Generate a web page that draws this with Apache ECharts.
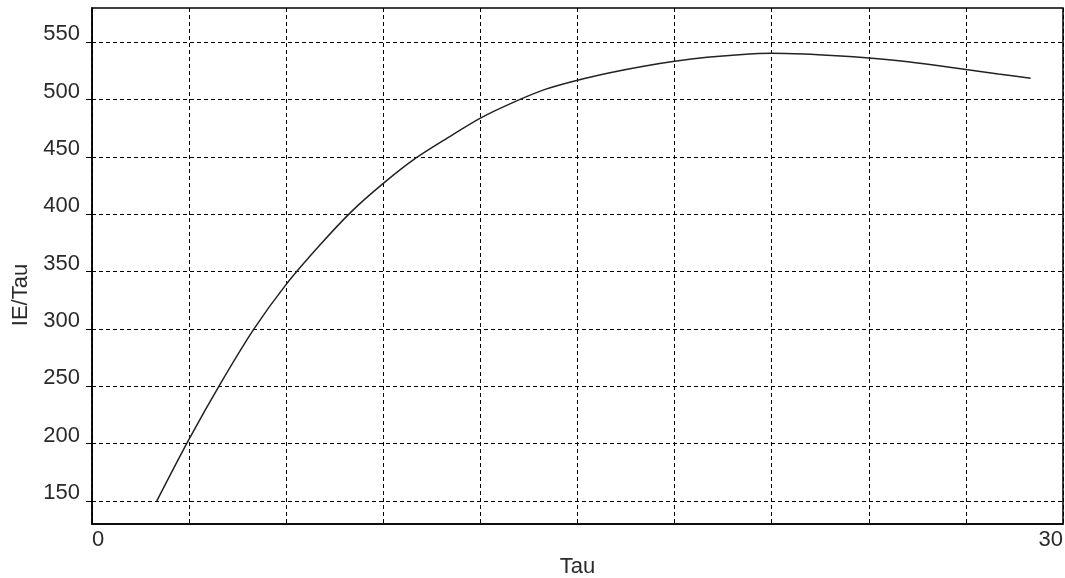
<!DOCTYPE html>
<html>
<head>
<meta charset="utf-8">
<script src="https://cdn.jsdelivr.net/npm/echarts@6/dist/echarts.min.js"></script>
<style>
html,body{margin:0;padding:0;background:#fff;}
#chart{width:1065px;height:578px;}
</style>
</head>
<body>
<div id="chart"></div>
<script>
const tau = [2,3,4,5,6,7,8,9,10,11,12,13,14,15,16,17,18,19,20,21,22,23,24,25,26,27,28,29];
const ieTau = [150,204,254,300,339,372,402,427,449,467,484,497.5,509,517,523.5,529,533.5,537,539.3,540.5,539.8,538.3,536.3,533.7,530.3,526.4,522.5,518.8];
const yTicks = [150,200,250,300,350,400,450,500,550];
const xLabelValues = [0,30];

const chart = echarts.init(document.getElementById('chart'));
const font = 'Liberation Sans, Arial, sans-serif';
chart.setOption({
  animation: false,
  backgroundColor: '#fff',
  grid: {left: 92, top: 8, right: 2, bottom: 54, show: true, borderColor: '#000', borderWidth: 1.5, backgroundColor: '#fff', outerBoundsMode: 'none', containLabel: false},
  xAxis: {
    type: 'value', min: 0, max: 30, interval: 3,
    name: 'Tau', nameLocation: 'middle', nameGap: 30,
    nameTextStyle: {fontFamily: font, fontSize: 22, color: '#2a2a2a'},
    axisLine: {show: true, lineStyle: {color: '#000', width: 1.5}},
    axisTick: {show: false},
    axisLabel: {
      fontFamily: font, fontSize: 22, color: '#2a2a2a', margin: 5,
      alignMinLabel: 'left', alignMaxLabel: 'right',
      formatter: v => xLabelValues.indexOf(v) >= 0 ? String(v) : ''
    },
    splitLine: {show: true, lineStyle: {color: '#000', type: [4,3], width: 1}}
  },
  yAxis: {
    type: 'value', min: 130, max: 580,
    name: 'IE/Tau', nameLocation: 'middle', nameGap: 60, nameRotate: 90,
    nameTextStyle: {fontFamily: font, fontSize: 22, color: '#2a2a2a', padding: [0, 58, 0, 0]},
    axisLine: {show: true, lineStyle: {color: '#000', width: 1.5}},
    axisTick: {show: true, length: 6, customValues: yTicks, lineStyle: {color: '#000', width: 1}},
    axisLabel: {
      customValues: yTicks, fontFamily: font, fontSize: 22, color: '#2a2a2a', margin: 12,
      verticalAlign: 'bottom', lineHeight: 16
    },
    splitLine: {show: true, lineStyle: {color: '#000', type: [4,3], width: 1}}
  },
  series: [{
    type: 'line',
    data: tau.map((t, i) => [t, ieTau[i]]),
    showSymbol: false,
    lineStyle: {color: '#222', width: 1.5},
    smooth: 0.3
  }]
});
</script>
</body>
</html>
